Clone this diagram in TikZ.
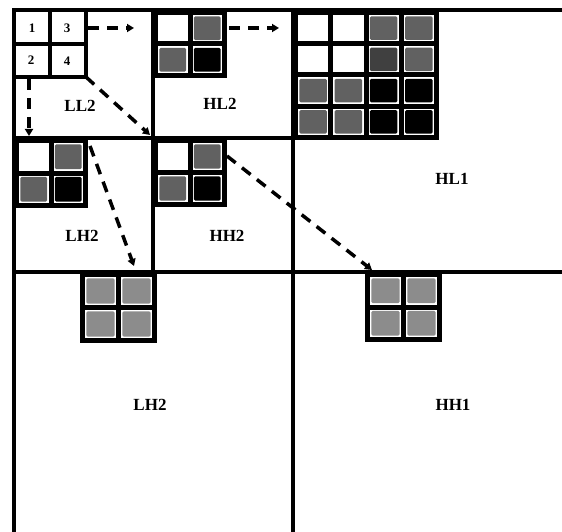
\documentclass[tikz,border=0pt]{standalone}
\usepackage{fontspec}
\setmainfont{Liberation Serif}
\usetikzlibrary{arrows.meta}
\tikzset{
  gridline/.style={line width=3.5pt, line cap=rect},
  thinline/.style={line width=4pt, line cap=rect},
  lbl/.style={font=\bfseries\fontsize{17}{17}\selectfont, inner sep=0pt},
  num/.style={font=\bfseries\fontsize{13}{13}\selectfont, inner sep=0pt},
  darr/.style={line width=3.5pt, dash pattern=on 11pt off 8pt, -{Triangle[length=7pt,width=8pt]}},
}
\colorlet{cg}{black!62}
\colorlet{cd}{black!75}
\colorlet{cl}{black!45}
\colorlet{cw}{white}
\colorlet{cb}{black}
\newcommand\cellblock[6]{%
  \fill[black] (#1,#2) rectangle (#3,#4);
  \pgfmathsetmacro\cbW{((#3)-(#1)-(#5+1)*5)/#5}%
  \pgfmathsetmacro\cbH{((#4)-(#2)-(#5+1)*5)/#5}%
  \foreach \cc [count=\k from 0] in {#6} {
    \pgfmathtruncatemacro\cbr{int(\k/#5)}
    \pgfmathtruncatemacro\cbq{mod(\k,#5)}
    \pgfmathsetmacro\xa{#1+5+\cbq*(\cbW+5)}
    \pgfmathsetmacro\ya{#2+5+\cbr*(\cbH+5)}
    \fill[white] (\xa,\ya) rectangle ++(\cbW,\cbH);
    \fill[\cc, rounded corners=1.5pt] (\xa+1.3,\ya+1.3) rectangle ++(\cbW-2.6,\cbH-2.6);
  }
}
\begin{document}
\begin{tikzpicture}[x=1pt,y=-1pt]
\useasboundingbox (0,0) rectangle (562,532);
% main grid
\draw[gridline] (14,532) -- (14,10) -- (562,10);
\draw[gridline] (293,10) -- (293,532);
\draw[gridline] (153,10) -- (153,272);
\draw[gridline] (14,138) -- (293,138);
\draw[gridline] (14,272) -- (562,272);
% LL2 small grid
\draw[thinline] (50,10) -- (50,77);
\draw[thinline] (86,10) -- (86,77);
\draw[thinline] (14,44) -- (86,44);
\draw[thinline] (14,77) -- (86,77);
\node[num] (n1) at (32,28) {1};
\node[num] (n3) at (67,28) {3};
\node[num] (n2) at (31,60) {2};
\node[num] (n4) at (67,61) {4};
% coefficient blocks
\cellblock{153}{10}{227}{78}{2}{cw,cg,cg,cb}
\cellblock{14}{138}{88}{208}{2}{cw,cg,cg,cb}
\cellblock{153}{138}{227}{207}{2}{cw,cg,cg,cb}
\cellblock{293}{10}{439}{140}{4}{cw,cw,cg,cg,cw,cw,cd,cg,cg,cg,cb,cb,cg,cg,cb,cb}
\cellblock{80}{272}{157}{343}{2}{cl,cl,cl,cl}
\cellblock{365}{272}{442}{342}{2}{cl,cl,cl,cl}
% labels
\node[lbl] (ll2) at (80,106) {LL2};
\node[lbl] (hl2) at (220,104) {HL2};
\node[lbl] (lh2) at (82,236) {LH2};
\node[lbl] (hh2) at (227,236) {HH2};
\node[lbl] (hl1) at (452,179) {HL1};
\node[lbl] (lh1) at (150,405) {LH2};
\node[lbl] (hh1) at (453,405) {HH1};
% arrow endpoints
\coordinate (a1s) at (88,28);  \coordinate (a1e) at (134,28);
\coordinate (a2s) at (229,28); \coordinate (a2e) at (279,28);
\coordinate (a3s) at (29,79);  \coordinate (a3e) at (29,136);
\coordinate (a4s) at (86,77);  \coordinate (a4e) at (150,135);
\coordinate (a5s) at (90,146); \coordinate (a5e) at (134,266);
\coordinate (a6s) at (227,156); \coordinate (a6e) at (372,270);
\draw[darr] (a1s) -- (a1e);
\draw[darr] (a2s) -- (a2e);
\draw[darr] (a3s) -- (a3e);
\draw[darr] (a4s) -- (a4e);
\draw[darr] (a5s) -- (a5e);
\draw[darr] (a6s) -- (a6e);
\end{tikzpicture}
\end{document}
